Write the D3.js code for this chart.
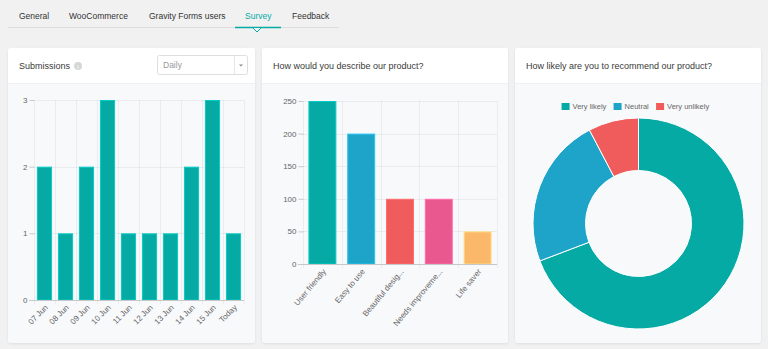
<!DOCTYPE html>
<html>
<head>
<meta charset="utf-8">
<script src="https://cdn.jsdelivr.net/npm/d3@7"></script>
<style>
  html, body { margin: 0; padding: 0; background: #f1f1f1; }
  svg { display: block; font-family: "Helvetica Neue", Arial, "Liberation Sans", sans-serif; }
</style>
</head>
<body>
<script>
// tabs
var tabs = ["General", "WooCommerce", "Gravity Forms users", "Survey", "Feedback"];
var activeTab = "Survey";

// submissions per day
var days = ["07 Jun", "08 Jun", "09 Jun", "10 Jun", "11 Jun", "12 Jun", "13 Jun", "14 Jun", "15 Jun", "Today"];
var submissions = [2, 1, 2, 3, 1, 1, 1, 2, 3, 1];
var submissionTicks = [0, 1, 2, 3];

// product description answers
var answers = ["User friendly", "Easy to use", "Beautiful desig...", "Needs improveme...", "Life saver"];
var answerCounts = [250, 200, 100, 100, 50];
var answerTicks = [0, 50, 100, 150, 200, 250];

// recommendation answers
var recommend = ["Very likely", "Neutral", "Very unlikely"];
var recommendCounts = [9, 3, 1];

var teal = "#05aaa5", blue = "#1ea4c9", red = "#f05b5b", pink = "#e9598f", orange = "#fbb86a";
var answerColors = [teal, blue, red, pink, orange];
var recommendColors = [teal, blue, red];

var width = 768, height = 349;

var svg = d3.select("body").append("svg")
    .attr("width", width)
    .attr("height", height);

svg.append("rect").attr("width", width).attr("height", height).attr("fill", "#f1f1f1");

// ---- tab bar ----
var tabX = [19, 69, 149, 245, 292];
svg.append("line")
    .attr("x1", 8).attr("x2", 339).attr("y1", 27.5).attr("y2", 27.5)
    .attr("stroke", "#dcdcdc");
svg.selectAll(".tab")
    .data(tabs)
    .enter().append("text")
    .attr("class", "tab")
    .attr("x", function (d, i) { return tabX[i]; })
    .attr("y", 19)
    .attr("font-size", 8.5)
    .attr("fill", function (d) { return d == activeTab ? teal : "#333"; })
    .text(function (d) { return d; });
svg.append("line")
    .attr("x1", 235).attr("x2", 281).attr("y1", 27.5).attr("y2", 27.5)
    .attr("stroke", teal).attr("stroke-width", 1.5);
svg.append("path")
    .attr("d", "M253,28 L257,32 L261,28")
    .attr("fill", "#f1f1f1").attr("stroke", teal).attr("stroke-width", 1);

// ---- cards ----
var cards = [
    {x: 8, w: 247, title: "Submissions"},
    {x: 262, w: 246, title: "How would you describe our product?"},
    {x: 515, w: 246, title: "How likely are you to recommend our product?"}
];
var cardTop = 48, cardBottom = 343, headerH = 35;

var defs = svg.append("defs");
var shadow = defs.append("filter").attr("id", "shadow")
    .attr("x", "-5%").attr("y", "-5%").attr("width", "110%").attr("height", "110%");
shadow.append("feDropShadow")
    .attr("dx", 0).attr("dy", 1).attr("stdDeviation", 0.8)
    .attr("flood-color", "#000").attr("flood-opacity", 0.08);

var titles = [];
cards.forEach(function (c) {
    var g = svg.append("g");
    g.append("rect")
        .attr("x", c.x).attr("y", cardTop)
        .attr("width", c.w).attr("height", cardBottom - cardTop)
        .attr("rx", 3)
        .attr("fill", "#f8f9fb")
        .attr("filter", "url(#shadow)");
    g.append("path")
        .attr("d", "M" + c.x + "," + (cardTop + headerH) + " V" + (cardTop + 3) +
            " Q" + c.x + "," + cardTop + " " + (c.x + 3) + "," + cardTop +
            " H" + (c.x + c.w - 3) + " Q" + (c.x + c.w) + "," + cardTop + " " + (c.x + c.w) + "," + (cardTop + 3) +
            " V" + (cardTop + headerH) + " Z")
        .attr("fill", "#fff");
    g.append("line")
        .attr("x1", c.x).attr("x2", c.x + c.w)
        .attr("y1", cardTop + headerH + 0.5).attr("y2", cardTop + headerH + 0.5)
        .attr("stroke", "#eef0f3");
    titles.push(g.append("text")
        .attr("x", c.x + 11).attr("y", cardTop + 21)
        .attr("font-size", 9)
        .attr("fill", "#3a3a3a")
        .text(c.title));
});

// info icon next to "Submissions"
var infoX = 19 + titles[0].node().getComputedTextLength() + 8;
svg.append("circle").attr("cx", infoX).attr("cy", 66).attr("r", 4).attr("fill", "#d6d6d6");
svg.append("text").attr("x", infoX).attr("y", 68.5).attr("text-anchor", "middle")
    .attr("font-size", 6).attr("fill", "#fff").text("i");

// period dropdown
var dd = svg.append("g");
dd.append("rect")
    .attr("x", 157.5).attr("y", 55.5).attr("width", 90).attr("height", 19).attr("rx", 2)
    .attr("fill", "#fff").attr("stroke", "#dedede");
dd.append("line")
    .attr("x1", 234.5).attr("x2", 234.5).attr("y1", 56).attr("y2", 74)
    .attr("stroke", "#e6e6e6");
dd.append("text").attr("x", 163).attr("y", 68).attr("font-size", 8.5).attr("fill", "#999").text("Daily");
dd.append("path").attr("d", "M239,64.5 L243,64.5 L241,66.5 Z").attr("fill", "#888");

// ---- bar chart helper ----
function barChart(opts) {
    var g = svg.append("g");
    var x = d3.scaleBand()
        .domain(opts.labels)
        .range([opts.left, opts.right])
        .paddingInner(0.28)
        .paddingOuter(0.14);
    var y = d3.scaleLinear()
        .domain([0, d3.max(opts.ticks)])
        .range([opts.bottom, opts.top]);
    var step = x.step();

    // horizontal grid
    g.selectAll(".hgrid")
        .data(opts.ticks.slice(1))
        .enter().append("line")
        .attr("x1", opts.left).attr("x2", opts.right)
        .attr("y1", function (d) { return Math.round(y(d)) + 0.5; })
        .attr("y2", function (d) { return Math.round(y(d)) + 0.5; })
        .attr("stroke", "#000").attr("stroke-opacity", 0.05);

    // vertical grid at category boundaries
    var bounds = d3.range(opts.labels.length + 1);
    g.selectAll(".vgrid")
        .data(bounds)
        .enter().append("line")
        .attr("x1", function (i) { return Math.round(opts.left + i * step) + 0.5; })
        .attr("x2", function (i) { return Math.round(opts.left + i * step) + 0.5; })
        .attr("y1", opts.top).attr("y2", opts.bottom + 4)
        .attr("stroke", "#000").attr("stroke-opacity", 0.05);

    // y axis
    var yAxis = d3.axisLeft(y)
        .tickValues(opts.ticks)
        .tickSize(5)
        .tickPadding(2)
        .tickFormat(d3.format("d"));
    var ya = g.append("g")
        .attr("transform", "translate(" + (opts.left + 0.5) + ",0)")
        .call(yAxis);
    ya.select(".domain").remove();
    ya.selectAll(".tick line").attr("stroke", "#c8c8c8");
    ya.selectAll(".tick text")
        .attr("fill", "#666")
        .attr("font-size", 8)
        .attr("font-family", "\"Helvetica Neue\", Arial, \"Liberation Sans\", sans-serif");

    // bars
    g.selectAll(".bar")
        .data(opts.values)
        .enter().append("rect")
        .attr("x", function (d, i) { return x(opts.labels[i]) + 0.5; })
        .attr("y", function (d) { return y(d) + 0.5; })
        .attr("width", x.bandwidth() - 1)
        .attr("height", function (d) { return opts.bottom - y(d) - 0.5; })
        .attr("fill", function (d, i) { return opts.colors[i]; })
        .attr("stroke", function (d, i) { return d3.color(opts.colors[i]).brighter(0.5); })
        .attr("stroke-width", 1);

    // x axis baseline
    g.append("line")
        .attr("x1", opts.left - 5).attr("x2", opts.right)
        .attr("y1", opts.bottom + 0.5).attr("y2", opts.bottom + 0.5)
        .attr("stroke", "#c8c8c8");

    // rotated category labels
    g.selectAll(".xlabel")
        .data(opts.labels)
        .enter().append("text")
        .attr("transform", function (d) {
            return "translate(" + (x(d) + x.bandwidth() / 2 + 2) + "," + (opts.bottom + 6) + ") rotate(" + (-opts.rotate) + ")";
        })
        .attr("text-anchor", "end")
        .attr("dy", "0.35em")
        .attr("font-size", 8)
        .attr("fill", "#666")
        .text(function (d) { return d; });
}

barChart({
    labels: days, values: submissions, ticks: submissionTicks,
    colors: days.map(function () { return teal; }),
    left: 34, right: 244, top: 100, bottom: 300, rotate: 45
});

barChart({
    labels: answers, values: answerCounts, ticks: answerTicks,
    colors: answerColors,
    left: 303, right: 497, top: 101, bottom: 264, rotate: 50
});

// ---- doughnut ----
var cx = 638.5, cy = 223.5, outerR = 105.5, innerR = 53;
var pie = d3.pie().sort(null).value(function (d) { return d; });
var arc = d3.arc().innerRadius(innerR).outerRadius(outerR);
svg.append("g")
    .attr("transform", "translate(" + cx + "," + cy + ")")
    .selectAll("path")
    .data(pie(recommendCounts))
    .enter().append("path")
    .attr("d", arc)
    .attr("fill", function (d, i) { return recommendColors[i]; })
    .attr("stroke", "#fff")
    .attr("stroke-width", 1);

// legend
var legend = svg.append("g");
var items = legend.selectAll("g")
    .data(recommend)
    .enter().append("g");
items.append("rect")
    .attr("width", 8).attr("height", 7)
    .attr("y", -6)
    .attr("fill", function (d, i) { return recommendColors[i]; });
items.append("text")
    .attr("x", 11)
    .attr("font-size", 7.5)
    .attr("fill", "#666")
    .text(function (d) { return d; });
var lx = 0;
items.each(function () {
    var w = this.getBBox().width;
    d3.select(this).attr("transform", "translate(" + lx + ",0)");
    lx += w + 7;
});
lx -= 7;
legend.attr("transform", "translate(" + (cx - 3 - lx / 2) + ",109)");
</script>
</body>
</html>
